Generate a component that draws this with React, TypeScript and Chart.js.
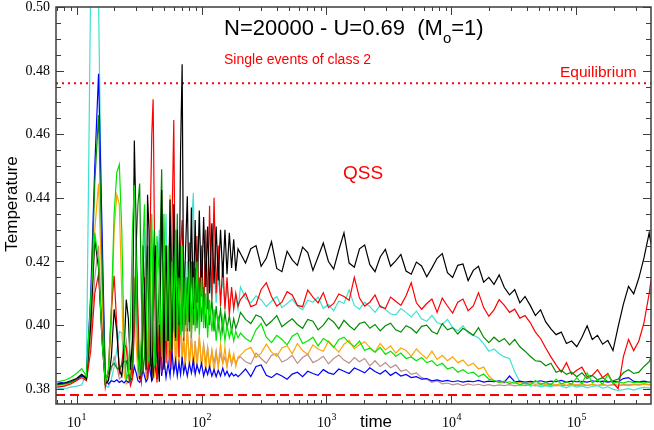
import React, { useEffect, useRef } from 'react';
import { Chart, registerables } from 'chart.js';

Chart.register(...registerables);

// ---------- axis ranges & ticks ----------
const xMin = 6.85;
const xMax = 395000;
const yMin = 0.3752;
const yMax = 0.5;
const yTickLabels = ['0.38', '0.40', '0.42', '0.44', '0.46', '0.48', '0.50'];
const xDecadeExponents = ['1', '2', '3', '4', '5'];

// ---------- reference levels ----------
const equilibriumLevel = 0.476;
const floorLevel = 0.378;

// ---------- time samples ----------
const earlyTimes = [
  7, 8, 9, 10, 11, 12, 13, 14, 15, 16,
  17, 18, 19, 20, 21, 22, 23, 24, 25, 26,
  27, 28, 29, 30, 31, 32, 33, 34, 35, 36,
  37, 38, 39, 40, 41, 42, 43, 44,
  46, 48, 50, 52, 54, 56, 58, 60, 62, 64, 66, 68, 70, 72, 74,
  77, 80, 83, 86, 89, 92, 96, 100, 104, 108, 112, 116,
  121, 126, 131, 136, 142, 148, 154, 160, 167, 174, 181, 188, 196,
];
const lateTimes = [
  205, 225, 248, 273, 300, 330, 363, 400, 440, 484,
  532, 585, 644, 708, 779, 857, 943, 1037, 1141, 1255,
  1380, 1518, 1670, 1837, 2021, 2223, 2445, 2690, 2959, 3255,
  3580, 3938, 4332, 4765, 5242, 5766, 6343, 6977, 7675, 8442,
  9287, 10215, 11237, 12360, 13596, 14956, 16452, 18097, 19907, 21897,
  24087, 26496, 29145, 32060, 35266, 38792, 42672, 46939, 51633, 56796,
  62476, 68723, 75596, 83155, 91471, 100618, 110680, 121748, 133922, 147315,
  162046, 178251, 196076, 215684, 237252, 260977, 287075, 315782, 347361, 382097,
  395000,
];
const times = [...earlyTimes, ...lateTimes];

// ---------- series (temperature) ----------
const blackVals = [
  .3815, .3818, .3825, .3832, .3845, .3830, .4000, .4270, .4180, .3950,
  .3815, .3825, .3900, .4050, .3980, .3860, .3840, .3920, .4080, .4020,
  .3860, .3950, .4580, .4300, .3920, .3830, .3900, .4250, .4100, .3860,
  .4410, .4300, .3920, .3825, .3950, .4200, .4250, .3920,
  .3822, .4425, .3860, .4250, .3950, .4395, .3920, .4380, .3960, .4300, .4000, .4550, .4820, .4020, .4200,
  .4405, .4010, .4370, .4050, .4330, .4070, .4360, .4090, .4340, .4120, .4310, .4100,
  .4320, .4130, .4310, .4140, .4300, .4150, .4300, .4160, .4290, .4180, .4270, .4170, .4240,
  .4225, .4195, .4240, .4250, .4185, .4210, .4262, .4178, .4168, .4232,
  .4205, .4188, .4245, .4228, .4172, .4215, .4258, .4200, .4176, .4236,
  .4290, .4195, .4182, .4240, .4252, .4190, .4168, .4214, .4238, .4185,
  .4202, .4222, .4170, .4160, .4198, .4186, .4152, .4180, .4210, .4225,
  .4165, .4150, .4188, .4192, .4140, .4172, .4185, .4135, .4150, .4128,
  .4158, .4118, .4095, .4112, .4070, .4090, .4062, .4030, .4048, .4010,
  .3988, .3970, .3978, .3942, .3950, .3932, .3962, .3998, .3955, .3968,
  .3940, .3952, .3920, .3995, .4065, .4122, .4098, .4148, .4212, .4290,
  .4255,
];
const redVals = [
  .3805, .3808, .3815, .3825, .3835, .3825, .3920, .4100, .4160, .3980,
  .3805, .3860, .4050, .4155, .4000, .3850, .3880, .3940, .3930, .3850,
  .3810, .3830, .3990, .4210, .4050, .3850, .3820, .3960, .4150, .3950,
  .3830, .3900, .4350, .4600, .4710, .4300, .3900, .3820,
  .4000, .3850, .4200, .3880, .4100, .3870, .4300, .4645, .3950, .4120, .3900, .4250, .4330, .3950, .4150,
  .3980, .4260, .3960, .4200, .4000, .4280, .4020, .4250, .4030, .4300, .4050, .4375,
  .4080, .4400, .4100, .4250, .4060, .4200, .4050, .4150, .4030, .4120, .4050, .4100, .4060,
  .4080, .4100, .4058, .4065, .4112, .4133, .4090, .4060, .4072, .4105,
  .4095, .4062, .4058, .4110, .4088, .4070, .4102, .4055, .4068, .4098,
  .4090, .4078, .4150, .4085, .4060, .4072, .4095, .4058, .4052, .4088,
  .4075, .4062, .4092, .4133, .4070, .4050, .4068, .4082, .4040, .4085,
  .4060, .4038, .4072, .4082, .4045, .4060, .4102, .4055, .4028, .4048,
  .4080, .4062, .4040, .4050, .4022, .4030, .4008, .3978, .3958, .3928,
  .3900, .3875, .3852, .3882, .3845, .3858, .3868, .3838, .3842, .3860,
  .3835, .3848, .3818, .3800, .3900, .3955, .3920, .3950, .4008, .4100,
  .4140,
];
const cyanVals = [
  .3802, .3800, .3805, .3808, .3812, .3850, .5100, .5400, .5020, .4200,
  .3810, .3805, .3830, .3870, .3920, .3980, .3975, .3880, .3840, .3830,
  .3870, .3950, .4100, .4030, .3900, .3850, .3920, .4200, .4300, .4100,
  .3880, .3850, .4050, .4250, .4100, .3900, .3870, .4150,
  .4300, .3950, .4150, .4350, .3980, .4120, .3950, .4250, .4000, .4180, .4020, .4260, .4000, .4150, .3980,
  .4200, .4030, .4300, .4415, .4050, .4200, .4020, .4180, .4050, .4200, .4060, .4150,
  .4080, .4180, .4070, .4150, .4090, .4140, .4060, .4120, .4070, .4100, .4060, .4090, .4050,
  .4120, .4085, .4070, .4092, .4080, .4058, .4075, .4090, .4055, .4068,
  .4082, .4060, .4048, .4078, .4072, .4088, .4052, .4065, .4045, .4076,
  .4068, .4110, .4062, .4050, .4072, .4058, .4040, .4062, .4050, .4035,
  .4032, .4052, .4040, .4026, .4044, .4020, .4012, .4030, .4008, .4002,
  .4018, .3992, .3982, .3998, .3975, .3968, .3960, .3942, .3918, .3925,
  .3910, .3900, .3895, .3853, .3822, .3815, .3808, .3812, .3806, .3810,
  .3806, .3812, .3808, .3803, .3810, .3805, .3809, .3803, .3807, .3810,
  .3802, .3806, .3798, .3795, .3797, .3800, .3796, .3801, .3804, .3802,
  .3805,
];
const darkGreenVals = [
  .3812, .3815, .3820, .3830, .3845, .3835, .4050, .4450, .4660, .4200,
  .3830, .3850, .3870, .3880, .3865, .3860, .3875, .3885, .3888, .3850,
  .3830, .3880, .4050, .4250, .4380, .4445, .4100, .3850, .3900, .4150,
  .4250, .4000, .3870, .3900, .4200, .4300, .4050, .3880,
  .4150, .4490, .3900, .4250, .3950, .4300, .3980, .4200, .3950, .4350, .4000, .4250, .3980, .4200, .4000,
  .4150, .3980, .4200, .4000, .4180, .3990, .4150, .4010, .4120, .3990, .4100, .4000,
  .4080, .3980, .4060, .3990, .4050, .3980, .4040, .3990, .4030, .3980, .4020, .3990, .4010,
  .4040, .4018, .4005, .4032, .4025, .3998, .4012, .4030, .3995, .4008,
  .4020, .4002, .3990, .4018, .4012, .3985, .4000, .4022, .4010, .3988,
  .4015, .3998, .3985, .4005, .4010, .3990, .4002, .3982, .3998, .4006,
  .3985, .3978, .3998, .3990, .3975, .3996, .4000, .3980, .3972, .4005,
  .3985, .3992, .3972, .3990, .3980, .3968, .3992, .3962, .3945, .3962,
  .3948, .3958, .3938, .3955, .3932, .3918, .3902, .3888, .3886, .3872,
  .3880, .3852, .3858, .3845, .3852, .3838, .3850, .3832, .3842, .3828,
  .3835, .3822, .3825, .3830, .3850, .3860, .3848, .3852, .3870, .3885,
  .3900,
];
const limeVals = [
  .3822, .3826, .3835, .3848, .3863, .3840, .4080, .4290, .4200, .3950,
  .3820, .3860, .4050, .4350, .4480, .4505, .4300, .3950, .3830, .3850,
  .4000, .4300, .4440, .4200, .3900, .3840, .3950, .4250, .4380, .4100,
  .3880, .3900, .4200, .4350, .4050, .3870, .4000, .4280,
  .4150, .3900, .4350, .3950, .4250, .3920, .4200, .3980, .4300, .3950, .4150, .3970, .4250, .3960, .4150,
  .3990, .4200, .3960, .4150, .3980, .4200, .3970, .4150, .3990, .4100, .3960, .4080,
  .3980, .4050, .3950, .4030, .3960, .4020, .3950, .4000, .3960, .3990, .3950, .3980, .3960,
  .3975, .3958, .3948, .3985, .4005, .3962, .3945, .3968, .3955, .3938,
  .3965, .3975, .3942, .3950, .3962, .3935, .3958, .3948, .3930, .3955,
  .3962, .3945, .3932, .3950, .3920, .3928, .3915, .3930, .3908, .3918,
  .3902, .3912, .3895, .3900, .3888, .3898, .3882, .3888, .3872, .3880,
  .3862, .3868, .3852, .3860, .3848, .3852, .3838, .3846, .3830, .3826,
  .3820, .3824, .3816, .3822, .3812, .3818, .3813, .3826, .3814, .3819,
  .3812, .3830, .3815, .3822, .3814, .3835, .3816, .3850, .3818, .3828,
  .3815, .3845, .3816, .3822, .3818, .3823, .3819, .3821, .3818, .3822,
  .3820,
];
const orangeVals = [
  .3808, .3810, .3818, .3828, .3838, .3830, .4000, .4300, .4445, .4100,
  .3815, .3850, .4000, .4300, .4410, .4380, .4100, .3850, .3815, .3820,
  .3850, .3950, .4150, .3950, .3840, .3830, .3950, .4100, .3950, .3830,
  .3850, .4000, .4200, .4000, .3850, .3840, .3950, .4100,
  .3860, .4050, .3880, .4150, .3900, .4410, .3900, .4050, .3860, .4000, .3870, .4050, .3880, .3980, .3860,
  .3990, .3870, .3960, .3850, .3950, .3860, .3970, .3870, .3940, .3850, .3930, .3860,
  .3920, .3850, .3910, .3870, .3940, .3880, .3930, .3870, .3920, .3880, .3910, .3870, .3900,
  .3905, .3922, .3930, .3898, .3912, .3940, .3915, .3902, .3928, .3935,
  .3910, .3942, .3920, .3908, .3938, .3925, .3918, .3950, .3932, .3915,
  .3940, .3952, .3925, .3938, .3948, .3930, .3915, .3942, .3922, .3935,
  .3912, .3928, .3920, .3902, .3925, .3908, .3895, .3918, .3892, .3905,
  .3888, .3900, .3882, .3890, .3872, .3880, .3862, .3868, .3840, .3825,
  .3820, .3818, .3822, .3816, .3820, .3815, .3819, .3814, .3818, .3813,
  .3817, .3812, .3816, .3811, .3815, .3812, .3816, .3811, .3814, .3810,
  .3813, .3810, .3812, .3809, .3812, .3810, .3813, .3811, .3814, .3812,
  .3813,
];
const rosyVals = [
  .3812, .3815, .3820, .3828, .3840, .3830, .3950, .4150, .4250, .4000,
  .3818, .3830, .3860, .3900, .3870, .3830, .3840, .3900, .3950, .3880,
  .3830, .3860, .4000, .4100, .3950, .3840, .3860, .4050, .4000, .3850,
  .3840, .3950, .4100, .3980, .3850, .3880, .4050, .3950,
  .3850, .4000, .3870, .4050, .3880, .4000, .3860, .4100, .3880, .3980, .3870, .4020, .3890, .3960, .3870,
  .3990, .3880, .3970, .3870, .3950, .3880, .3960, .3870, .3940, .3880, .3930, .3870,
  .3920, .3880, .3920, .3870, .3910, .3880, .3900, .3870, .3910, .3875, .3900, .3880, .3895,
  .3900, .3885, .3878, .3912, .3895, .3880, .3905, .3910, .3884, .3892,
  .3905, .3880, .3898, .3908, .3882, .3890, .3902, .3878, .3895, .3906,
  .3890, .3880, .3898, .3885, .3895, .3872, .3888, .3870, .3882, .3866,
  .3875, .3855, .3860, .3845, .3850, .3835, .3830, .3820, .3825, .3815,
  .3818, .3812, .3816, .3810, .3815, .3811, .3814, .3810, .3813, .3809,
  .3812, .3810, .3813, .3809, .3812, .3810, .3812, .3809, .3813, .3810,
  .3812, .3809, .3811, .3810, .3813, .3810, .3812, .3810, .3813, .3811,
  .3813, .3810, .3814, .3811, .3813, .3812, .3814, .3812, .3815, .3813,
  .3815,
];
const blueVals = [
  .3822, .3818, .3822, .3830, .3840, .3835, .4100, .4500, .4790, .4300,
  .3830, .3815, .3825, .3822, .3828, .3820, .3825, .3818, .3826, .3820,
  .3825, .3835, .3870, .3850, .3825, .3820, .3830, .3860, .3840, .3822,
  .3830, .3880, .3850, .3825, .3835, .3900, .3860, .3830,
  .3965, .3840, .3900, .3835, .3880, .3840, .3920, .3850, .3890, .3840, .3880, .3845, .3900, .3850, .3875,
  .3840, .3880, .3850, .3890, .3845, .3875, .3850, .3880, .3840, .3865, .3845, .3870,
  .3840, .3860, .3838, .3858, .3840, .3865, .3842, .3855, .3838, .3850, .3840, .3845, .3838,
  .3845, .3862, .3838, .3870, .3875, .3842, .3835, .3848, .3840, .3830,
  .3846, .3852, .3838, .3855, .3848, .3842, .3860, .3850, .3845, .3862,
  .3855, .3848, .3865, .3858, .3850, .3866, .3854, .3846, .3858, .3842,
  .3852, .3840, .3845, .3835, .3838, .3830, .3832, .3825, .3828, .3823,
  .3826, .3822, .3825, .3821, .3824, .3822, .3826, .3821, .3824, .3822,
  .3825, .3821, .3840, .3822, .3824, .3821, .3823, .3822, .3825, .3821,
  .3824, .3822, .3826, .3821, .3824, .3822, .3823, .3821, .3825, .3822,
  .3824, .3821, .3823, .3822, .3832, .3835, .3823, .3822, .3824, .3821,
  .3822,
];

const seriesList = [
  { name: 'lime', color: '#00e600', values: limeVals },
  { name: 'black', color: '#000000', values: blackVals },
  { name: 'darkgreen', color: '#008c00', values: darkGreenVals },
  { name: 'red', color: '#ff0000', values: redVals },
  { name: 'blue', color: '#0000ff', values: blueVals },
  { name: 'orange', color: '#ffa500', values: orangeVals },
  { name: 'cyan', color: '#40e0d0', values: cyanVals },
  { name: 'rosybrown', color: '#bc8f8f', values: rosyVals },
];

const SANS = '"Liberation Sans", Arial, sans-serif';
const SERIF = '"Liberation Serif", "Times New Roman", serif';

const overlayPlugin = {
  id: 'overlay',
  afterDatasetsDraw(chart: any) {
    const { ctx, chartArea: a, scales } = chart;
    const xs = scales.x;
    const ys = scales.y;
    ctx.save();
    ctx.strokeStyle = '#3c3c3c';
    ctx.lineWidth = 1;
    ctx.beginPath();
    for (let d = 0; d <= 5; d++) {
      for (let m = 1; m <= 9; m++) {
        const v = m * Math.pow(10, d);
        if (v < xs.min || v > xs.max) continue;
        const px = Math.round(xs.getPixelForValue(v)) + 0.5;
        const len = m === 1 ? 8 : 4;
        ctx.moveTo(px, a.bottom);
        ctx.lineTo(px, a.bottom - len);
        ctx.moveTo(px, a.top);
        ctx.lineTo(px, a.top + len);
      }
    }
    for (let k = 0; k <= 24; k++) {
      const v = (380 + 5 * k) / 1000;
      const py = Math.round(ys.getPixelForValue(v)) + 0.5;
      const len = k % 4 === 0 ? 8 : 5;
      ctx.moveTo(a.left, py);
      ctx.lineTo(a.left + len, py);
      ctx.moveTo(a.right, py);
      ctx.lineTo(a.right - len, py);
    }
    ctx.stroke();
    ctx.lineWidth = 1.5;
    ctx.strokeRect(a.left, a.top, a.right - a.left, a.bottom - a.top);

    // y tick labels
    ctx.fillStyle = '#000';
    ctx.font = '14px ' + SERIF;
    ctx.textAlign = 'right';
    ctx.textBaseline = 'middle';
    yTickLabels.forEach((lab) => {
      const py = ys.getPixelForValue(parseFloat(lab));
      ctx.fillText(lab, a.left - 6, py + 0.5);
    });

    // x tick labels 10^n
    ctx.textAlign = 'left';
    ctx.textBaseline = 'alphabetic';
    xDecadeExponents.forEach((e) => {
      const px = xs.getPixelForValue(Math.pow(10, parseInt(e, 10)));
      ctx.font = '14px ' + SERIF;
      const wb = ctx.measureText('10').width;
      ctx.font = '10px ' + SERIF;
      const we = ctx.measureText(e).width;
      const start = px - (wb + we) / 2;
      ctx.font = '14px ' + SERIF;
      ctx.fillText('10', start, 427);
      ctx.font = '10px ' + SERIF;
      ctx.fillText(e, start + wb + 0.5, 420);
    });

    // axis titles
    ctx.font = '17px ' + SANS;
    ctx.textAlign = 'center';
    ctx.fillText('time', 376, 427);
    ctx.save();
    ctx.translate(17, 204);
    ctx.rotate(-Math.PI / 2);
    ctx.fillText('Temperature', 0, 0);
    ctx.restore();

    // main title with subscript
    ctx.textAlign = 'left';
    let x0 = 224;
    ctx.font = '22px ' + SANS;
    const t1 = 'N=20000 - U=0.69  (M';
    ctx.fillText(t1, x0, 35);
    x0 += ctx.measureText(t1).width;
    ctx.font = '15px ' + SANS;
    ctx.fillText('o', x0, 43);
    x0 += ctx.measureText('o').width;
    ctx.font = '22px ' + SANS;
    ctx.fillText('=1)', x0, 35);

    // red annotations
    ctx.fillStyle = '#ff0000';
    ctx.font = '14px ' + SANS;
    ctx.fillText('Single events of class 2', 224, 63.5);
    ctx.font = '15.5px ' + SANS;
    ctx.fillText('Equilibrium', 560, 77);
    ctx.font = '19px ' + SANS;
    ctx.fillText('QSS', 343, 179);
    ctx.restore();
  },
};

export default function App() {
  const canvasRef = useRef<HTMLCanvasElement | null>(null);

  useEffect(() => {
    const canvas = canvasRef.current;
    if (!canvas) return;
    const datasets: any[] = seriesList.map((s) => ({
      label: s.name,
      data: times.map((t, i) => ({ x: t, y: s.values[i] })),
      borderColor: s.color,
      backgroundColor: s.color,
      borderWidth: 1.2,
      pointRadius: 0,
      tension: 0,
      fill: false,
    }));
    datasets.push({
      label: 'equilibrium',
      data: [
        { x: xMin, y: equilibriumLevel },
        { x: xMax, y: equilibriumLevel },
      ],
      borderColor: '#ff0000',
      borderWidth: 2,
      borderDash: [2, 4],
      pointRadius: 0,
      fill: false,
    });
    datasets.push({
      label: 'floor',
      data: [
        { x: xMin, y: floorLevel },
        { x: xMax, y: floorLevel },
      ],
      borderColor: '#ff0000',
      borderWidth: 2,
      borderDash: [9, 5],
      pointRadius: 0,
      fill: false,
    });

    const chart = new Chart(canvas, {
      type: 'line',
      data: { datasets },
      options: {
        responsive: false,
        maintainAspectRatio: false,
        animation: false,
        layout: { padding: { left: 56, top: 7, right: 3, bottom: 26 } },
        plugins: { legend: { display: false }, tooltip: { enabled: false } },
        events: [],
        scales: {
          x: { type: 'logarithmic', min: xMin, max: xMax, display: false },
          y: { type: 'linear', min: yMin, max: yMax, display: false },
        },
      },
      plugins: [overlayPlugin],
    } as any);
    return () => chart.destroy();
  }, []);

  return (
    <div style={{ position: 'fixed', left: 0, top: 0, width: 654, height: 430, background: '#fff' }}>
      <canvas ref={canvasRef} width={654} height={430} style={{ width: 654, height: 430, display: 'block' }} />
    </div>
  );
}
